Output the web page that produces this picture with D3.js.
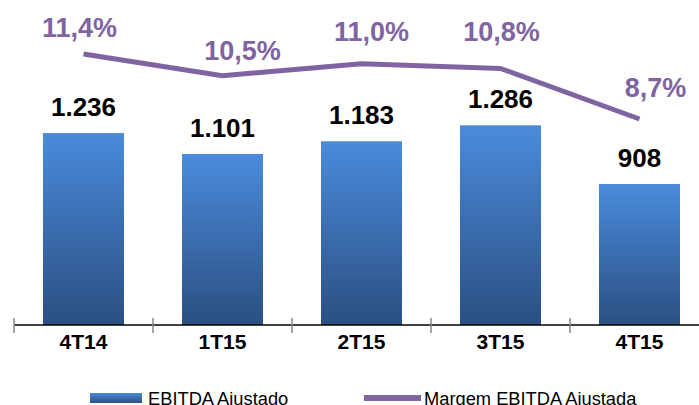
<!DOCTYPE html>
<html>
<head>
<meta charset="utf-8">
<script src="https://cdn.jsdelivr.net/npm/d3@7"></script>
<style>
  html, body { margin: 0; padding: 0; background: #fff; }
  svg { display: block; font-family: "Liberation Sans", Arial, sans-serif; }
</style>
</head>
<body>
<svg id="chart" width="699" height="405"></svg>
<script>
// ---- data ----
const categories = ["4T14", "1T15", "2T15", "3T15", "4T15"];
const ebitdaValues = [1236, 1101, 1183, 1286, 908];
const ebitdaLabels = ["1.236", "1.101", "1.183", "1.286", "908"];
const marginValues = [11.4, 10.5, 11.0, 10.8, 8.7];
const marginLabels = ["11,4%", "10,5%", "11,0%", "10,8%", "8,7%"];
const legendLabels = ["EBITDA Ajustado", "Margem EBITDA Ajustada"];

// ---- layout (label nudges relative to points) ----
const marginLabelDx = [-4, 20, 10, 1, 16];
const marginLabelDy = [-17, -16, -23, -27, -22];

const svg = d3.select("#chart");
const baseY = 325;

const x = d3.scaleBand()
  .domain(categories)
  .range([14, 709])
  .paddingInner(0.417)
  .paddingOuter(0.2085);

const yBar = d3.scaleLinear().domain([0, 2000]).range([baseY, 14.4]);
const yLine = d3.scaleLinear().domain([0, 12]).range([328.4, 39.6]);

const defs = svg.append("defs");
const grad = defs.append("linearGradient")
  .attr("id", "barGrad").attr("x1", 0).attr("y1", 0).attr("x2", 0).attr("y2", 1);
grad.append("stop").attr("offset", "0%").attr("stop-color", "#4a8bdc");
grad.append("stop").attr("offset", "100%").attr("stop-color", "#2b4f82");

const legGrad = defs.append("linearGradient")
  .attr("id", "legGrad").attr("x1", 0).attr("y1", 0).attr("x2", 0).attr("y2", 1);
legGrad.append("stop").attr("offset", "0%").attr("stop-color", "#4a8bdc");
legGrad.append("stop").attr("offset", "100%").attr("stop-color", "#2b4f82");

// bars
svg.append("g").selectAll("rect")
  .data(ebitdaValues)
  .join("rect")
  .attr("x", (d, i) => x(categories[i]))
  .attr("y", d => yBar(d))
  .attr("width", x.bandwidth())
  .attr("height", d => baseY - yBar(d))
  .attr("fill", "url(#barGrad)");

// bar labels
svg.append("g").selectAll("text")
  .data(ebitdaValues)
  .join("text")
  .attr("x", (d, i) => x(categories[i]) + x.bandwidth() / 2)
  .attr("y", d => yBar(d) - 17)
  .attr("text-anchor", "middle")
  .attr("font-size", 26)
  .attr("font-weight", "bold")
  .attr("fill", "#000")
  .text((d, i) => ebitdaLabels[i]);

// x axis
const axisG = svg.append("g");
axisG.append("line")
  .attr("x1", 14).attr("x2", 699)
  .attr("y1", baseY).attr("y2", baseY)
  .attr("stroke", "#000").attr("stroke-width", 1.5);
axisG.selectAll("line.tick")
  .data(categories.map((c, i) => x.range()[0] + i * x.step()))
  .join("line")
  .attr("class", "tick")
  .attr("x1", d => d).attr("x2", d => d)
  .attr("y1", baseY - 7).attr("y2", baseY + 8)
  .attr("stroke", "#888").attr("stroke-width", 1.5);
axisG.selectAll("text")
  .data(categories)
  .join("text")
  .attr("x", d => x(d) + x.bandwidth() / 2)
  .attr("y", 349)
  .attr("text-anchor", "middle")
  .attr("font-size", 21)
  .attr("font-weight", "bold")
  .attr("fill", "#000")
  .text(d => d);

// margin line
const line = d3.line()
  .x((d, i) => x(categories[i]) + x.bandwidth() / 2)
  .y(d => yLine(d));
svg.append("path")
  .datum(marginValues)
  .attr("d", line)
  .attr("fill", "none")
  .attr("stroke", "#8064a2")
  .attr("stroke-width", 5)
  .attr("stroke-linejoin", "round");

svg.append("g").selectAll("text")
  .data(marginValues)
  .join("text")
  .attr("x", (d, i) => x(categories[i]) + x.bandwidth() / 2 + marginLabelDx[i])
  .attr("y", (d, i) => yLine(d) + marginLabelDy[i])
  .attr("text-anchor", "middle")
  .attr("font-size", 27)
  .attr("font-weight", "bold")
  .attr("fill", "#8064a2")
  .text((d, i) => marginLabels[i]);

// legend
const leg = svg.append("g");
leg.append("rect")
  .attr("x", 90).attr("y", 393).attr("width", 52).attr("height", 10)
  .attr("fill", "url(#legGrad)");
leg.append("text")
  .attr("x", 148).attr("y", 405)
  .attr("font-size", 18.3).attr("fill", "#000")
  .text(legendLabels[0]);
leg.append("line")
  .attr("x1", 364).attr("x2", 421).attr("y1", 398).attr("y2", 398)
  .attr("stroke", "#8064a2").attr("stroke-width", 6);
leg.append("text")
  .attr("x", 424).attr("y", 405)
  .attr("font-size", 18.3).attr("fill", "#000")
  .text(legendLabels[1]);
</script>
</body>
</html>
